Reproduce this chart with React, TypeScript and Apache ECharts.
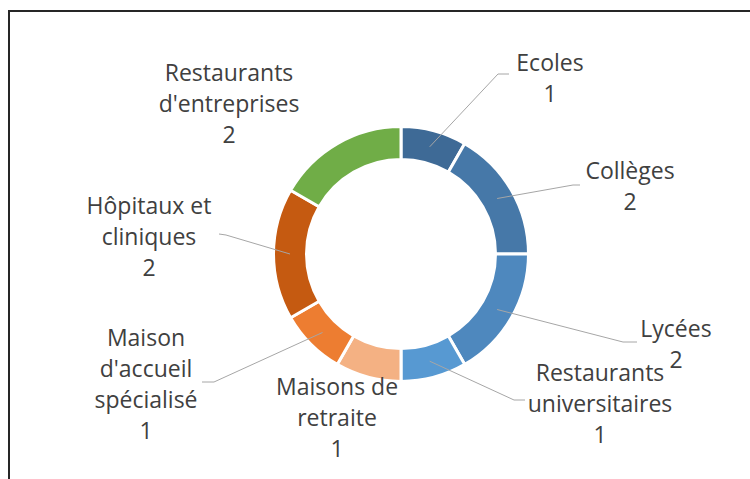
import React, { useEffect, useRef } from "react";
import * as echarts from "echarts";

const categories = [
  "Ecoles",
  "Collèges",
  "Lycées",
  "Restaurants universitaires",
  "Maisons de retraite",
  "Maison d'accueil spécialisé",
  "Hôpitaux et cliniques",
  "Restaurants d'entreprises",
];
const values = [1, 2, 2, 1, 1, 1, 2, 2];
const wrappedNames = [
  "Ecoles",
  "Collèges",
  "Lycées",
  "Restaurants\nuniversitaires",
  "Maisons de\nretraite",
  "Maison\nd'accueil\nspécialisé",
  "Hôpitaux et\ncliniques",
  "Restaurants\nd'entreprises",
];
const colors = [
  "#3E6A96",
  "#4678A8",
  "#4E88BE",
  "#5799D2",
  "#F4B183",
  "#ED7D31",
  "#C55A11",
  "#70AD47",
];

// label placement (centre of text block) and leader-line elbow/end points
const labelCenters: [number, number][] = [
  [550, 77],
  [630, 185],
  [676, 343],
  [600, 403],
  [337, 417],
  [146, 383],
  [149, 236],
  [229, 103],
];
const leaderElbows: ([number, number][] | null)[] = [
  [[498, 74], [509, 74]],
  [[573, 185], [580, 185]],
  [[623, 342], [637, 342]],
  [[514, 400], [525, 400]],
  null,
  [[214, 382], [202, 382]],
  [[226, 235], [219, 234]],
  null,
];

const CX = 401;
const CY = 254;
const R_IN = 96;
const R_OUT = 126;

export default function App() {
  const ref = useRef<HTMLDivElement>(null);
  useEffect(() => {
    document.body.style.margin = "0";
    if (!ref.current) return;
    const chart = echarts.init(ref.current, undefined, { renderer: "svg" });
    const total = values.reduce((a, b) => a + b, 0);
    const mids: number[] = [];
    let acc = 0;
    values.forEach((v) => {
      mids.push(((acc + v / 2) / total) * Math.PI * 2);
      acc += v;
    });
    const rMid = (R_IN + R_OUT) / 2;
    const common = {
      type: "pie",
      center: [CX, CY],
      radius: [R_IN - 1.5, R_OUT + 1.5],
      startAngle: 90,
      clockwise: true,
      avoidLabelOverlap: false,
      silent: true,
    };
    chart.setOption({
      animation: false,
      backgroundColor: "#ffffff",
      graphic: [
        {
          type: "rect",
          shape: { x: 9, y: 11, width: 900, height: 600 },
          style: { fill: "none", stroke: "#262626", lineWidth: 2 },
          silent: true,
        },
      ],
      series: [
        {
          ...common,
          z: 2,
          itemStyle: { borderColor: "#ffffff", borderWidth: 3 },
          label: { show: false },
          labelLine: { show: false },
          data: categories.map((name, i) => ({
            name,
            value: values[i],
            itemStyle: { color: colors[i] },
          })),
        },
        {
          ...common,
          z: 5,
          itemStyle: { color: "rgba(0,0,0,0)", borderWidth: 0 },
          label: {
            show: true,
            position: "outside",
            formatter: (p: any) => wrappedNames[p.dataIndex] + "\n" + p.value,
            fontSize: 23,
            lineHeight: 31,
            color: "#404040",
            fontFamily: "'Open Sans', sans-serif",
            align: "center",
          },
          labelLine: {
            show: true,
            lineStyle: { color: "#A6A6A6", width: 1 },
          },
          labelLayout: (params: any) => {
            const i = params.dataIndex;
            const el = leaderElbows[i];
            const a = mids[i];
            const start: [number, number] = [CX + rMid * Math.sin(a), CY - rMid * Math.cos(a)];
            const res: any = {
              x: labelCenters[i][0],
              y: labelCenters[i][1],
              align: "center",
              verticalAlign: "middle",
            };
            if (el) res.labelLinePoints = [start, el[0], el[1]];
            return res;
          },
          data: categories.map((name, i) => ({
            name,
            value: values[i],
            labelLine: { show: leaderElbows[i] !== null },
          })),
        },
      ],
    });
    return () => chart.dispose();
  }, []);
  return <div ref={ref} style={{ width: 750, height: 479 }} />;
}
